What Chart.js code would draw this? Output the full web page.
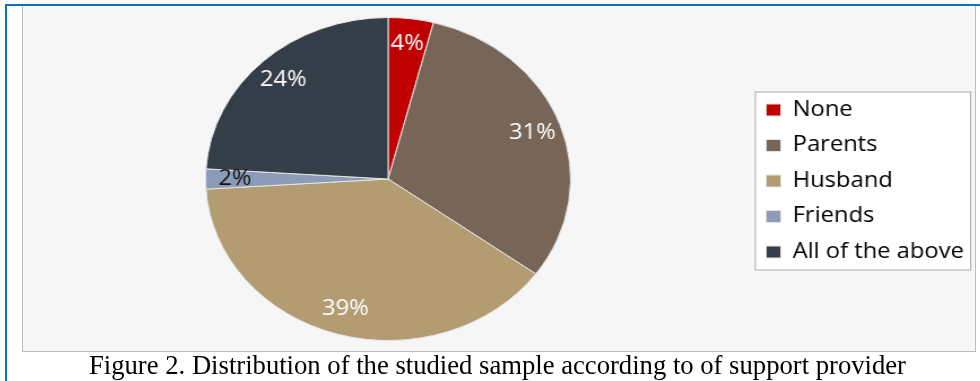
<!DOCTYPE html>
<html>
<head>
<meta charset="utf-8">
<script src="https://cdn.jsdelivr.net/npm/chart.js@4"></script>
<style>
    body { margin: 0; width: 980px; height: 381px; background: #fff; position: relative; overflow: hidden; }
    #frameTop { position: absolute; left: 5px; top: 4px; width: 975px; height: 2px; background: #0b6fc2; }
    #frameLeft { position: absolute; left: 5px; top: 4px; width: 2px; height: 377px; background: #0b6fc2; }
    #plotBox { position: absolute; left: 22px; top: 6px; width: 952px; height: 345px; border: 1px solid #bcbcbc; border-top: none; background: #f6f6f6; }
    #stretch { position: absolute; left: 22px; top: 6px; width: 843px; height: 346px; transform: scaleX(1.13); transform-origin: 0 0; }
    #caption { position: absolute; top: 352px; left: 89px; white-space: nowrap; font-family: "Liberation Serif", "Times New Roman", serif; font-size: 27px; line-height: 27px; color: #000; transform-origin: 0 0; }
</style>
</head>
<body>
<div id="frameTop"></div>
<div id="frameLeft"></div>
<div id="plotBox"></div>
<div id="stretch"><canvas id="support-chart" width="843" height="346"></canvas></div>
<div id="caption">Figure 2. Distribution of the studied sample according to of support provider</div>

<script>
const categories = ['None', 'Parents', 'Husband', 'Friends', 'All of the above'];
const shares = [4, 31, 39, 2, 24];

const sliceColors = ['#c00000', '#776557', '#b39b72', '#8c9bb8', '#343e49'];
const labelColors = ['#ffffff', '#ffffff', '#ffffff', '#111111', '#ffffff'];

/* nudge the legend a little lower, like the figure */
const legendNudge = {
    id: 'legendNudge',
    afterLayout(chart) {
        chart.legend.top += 2;
        chart.legend.bottom += 2;
    }
};

/* white box with grey border behind the legend */
const legendFrame = {
    id: 'legendFrame',
    beforeDraw(chart) {
        const lg = chart.legend;
        const boxes = lg.legendHitBoxes;
        if (!boxes || !boxes.length) return;
        const first = boxes[0];
        const last = boxes[boxes.length - 1];
        const x0 = first.left - 10;
        const y0 = first.top - 8;
        const x1 = lg.right - 3;
        const y1 = last.top + last.height + 8;
        const ctx = chart.ctx;
        ctx.save();
        ctx.fillStyle = '#ffffff';
        ctx.fillRect(x0, y0, x1 - x0, y1 - y0);
        ctx.strokeStyle = '#a8a8a8';
        ctx.lineWidth = 1;
        ctx.strokeRect(x0 + 0.5, y0 + 0.5, x1 - x0 - 1, y1 - y0 - 1);
        ctx.restore();
    }
};

/* percentage labels inside the slices */
const sliceLabels = {
    id: 'sliceLabels',
    afterDatasetsDraw(chart) {
        const ctx = chart.ctx;
        const meta = chart.getDatasetMeta(0);
        ctx.save();
        ctx.font = '21px "Open Sans"';
        ctx.textAlign = 'center';
        ctx.textBaseline = 'middle';
        meta.data.forEach((arc, i) => {
            const p = arc.getProps(['x', 'y', 'startAngle', 'endAngle', 'outerRadius'], true);
            const mid = (p.startAngle + p.endAngle) / 2;
            const r = p.outerRadius * 0.84;
            ctx.fillStyle = labelColors[i];
            ctx.fillText(shares[i] + '%', p.x + Math.cos(mid) * r, p.y + Math.sin(mid) * r);
        });
        ctx.restore();
    }
};

const ctx = document.getElementById('support-chart').getContext('2d');
new Chart(ctx, {
    type: 'pie',
    data: {
        labels: categories,
        datasets: [{
            data: shares,
            backgroundColor: sliceColors,
            borderColor: '#e4e4e4',
            borderWidth: 1
        }]
    },
    options: {
        responsive: false,
        animation: false,
        layout: {
            padding: { top: 11, bottom: 11, left: 4, right: 0 }
        },
        plugins: {
            legend: {
                position: 'right',
                maxWidth: 199,
                labels: {
                    boxWidth: 13,
                    boxHeight: 12,
                    padding: 14.5,
                    color: '#000',
                    font: { family: 'Open Sans', size: 21 }
                }
            },
            tooltip: { enabled: false }
        }
    },
    plugins: [legendNudge, legendFrame, sliceLabels]
});

/* caption is squeezed to the width it has in the figure */
const caption = document.getElementById('caption');
const capWidth = caption.getBoundingClientRect().width;
caption.style.transform = 'scaleX(' + (817 / capWidth) + ')';
</script>
</body>
</html>
